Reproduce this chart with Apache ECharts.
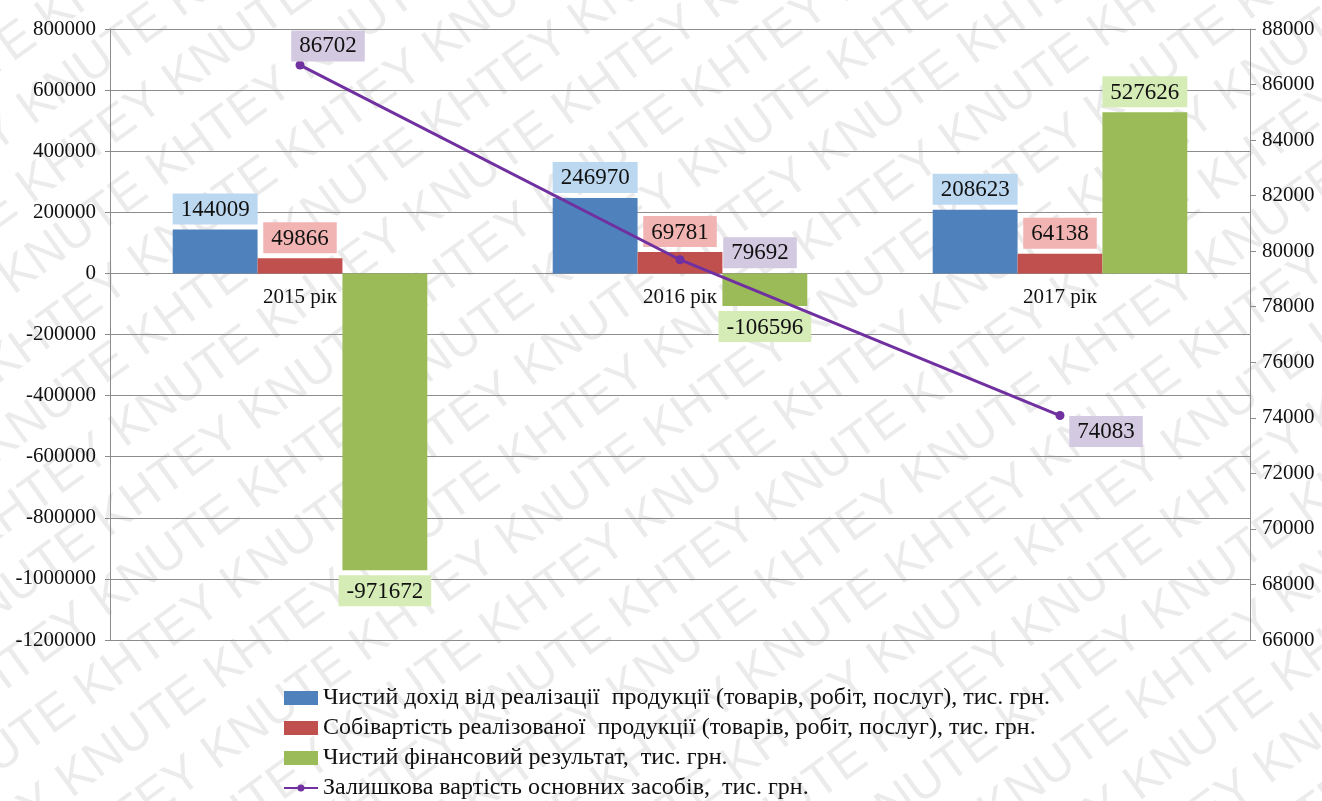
<!DOCTYPE html>
<html>
<head>
<meta charset="utf-8">
<script src="https://cdn.jsdelivr.net/npm/echarts@6/dist/echarts.min.js"></script>
<style>
  html, body { margin: 0; padding: 0; background: #ffffff; }
  #chart { width: 1322px; height: 801px; }
</style>
</head>
<body>
<div id="chart"></div>
<script>
// Categories and values
const years = ['2015 рік', '2016 рік', '2017 рік'];
const netIncome = [144009, 246970, 208623];
const costOfSales = [49866, 69781, 64138];
const netResult = [-971672, -106596, 527626];
const residualValue = [86702, 79692, 74083];

const seriesNames = [
  'Чистий дохід від реалізації  продукції (товарів, робіт, послуг), тис. грн.',
  'Собівартість реалізованої  продукції (товарів, робіт, послуг), тис. грн.',
  'Чистий фінансовий результат,  тис. грн.',
  'Залишкова вартість основних засобів,  тис. грн.'
];

// Axis ranges
const leftAxis = { min: -1200000, max: 800000, interval: 200000 };
const rightAxis = { min: 66000, max: 88000, interval: 2000 };

// Where each point label of the line sits, relative to its marker
const pointLabelOffsets = [[28, -19], [80, -7], [46, 16]];

const serif = "'Liberation Serif', 'Times New Roman', serif";
const gridColor = '#8c8c8c';
const plain = v => String(v);

const grid = { left: 110, right: 72, top: 29, bottom: 161 };
const plotHeight = 801 - grid.top - grid.bottom;
// Lift the category axis from the bottom edge up to the zero line of the left axis
const zeroLift = plotHeight * (0 - leftAxis.min) / (leftAxis.max - leftAxis.min);

function barLabel(bg) {
  return {
    show: true,
    position: 'outside',
    distance: 5,
    fontFamily: serif,
    fontSize: 23,
    color: '#111111',
    backgroundColor: bg,
    padding: [5, 8, 3, 8]
  };
}

// Diagonal "KHTEY KNUTE" watermark over the whole canvas
const watermark = [];
for (let i = -15; i <= 15; i++) {
  watermark.push({
    type: 'text',
    x: -1850 + ((i % 3 + 3) % 3) * 115,
    y: i * 63,
    style: {
      text: 'KHTEY KNUTE '.repeat(12),
      font: '50px "Liberation Sans", Arial, sans-serif',
      fill: 'rgba(0,0,0,0.08)'
    }
  });
}

const chart = echarts.init(document.getElementById('chart'), null, { renderer: 'canvas' });

chart.setOption({
  backgroundColor: '#ffffff',
  animation: false,
  grid: grid,
  legend: {
    orient: 'vertical',
    left: 284,
    top: 686,
    padding: 0,
    itemWidth: 34,
    itemHeight: 14,
    itemGap: 6,
    icon: 'rect',
    textStyle: { fontFamily: serif, fontSize: 24, lineHeight: 24, color: '#111111' },
    data: [
      { name: seriesNames[0] },
      { name: seriesNames[1] },
      { name: seriesNames[2] },
      { name: seriesNames[3], icon: 'path://M0,6 L34,6 L34,8 L0,8 Z M17,3.5 A3.5,3.5 0 1 1 16.99,3.5 Z' }
    ]
  },
  xAxis: {
    type: 'category',
    data: years,
    position: 'bottom',
    offset: -zeroLift,
    axisLine: { onZero: false, lineStyle: { color: gridColor, width: 1 } },
    axisTick: { show: false },
    axisLabel: { fontFamily: serif, fontSize: 21, color: '#111111', margin: 14 },
    splitLine: { show: false }
  },
  yAxis: [
    {
      type: 'value',
      min: leftAxis.min,
      max: leftAxis.max,
      interval: leftAxis.interval,
      axisLine: { show: true, lineStyle: { color: gridColor } },
      axisTick: { show: true, length: 5, lineStyle: { color: gridColor } },
      axisLabel: { fontFamily: serif, fontSize: 21, color: '#111111', margin: 14, formatter: plain },
      splitLine: { show: true, lineStyle: { color: gridColor, width: 1 } }
    },
    {
      type: 'value',
      position: 'right',
      min: rightAxis.min,
      max: rightAxis.max,
      interval: rightAxis.interval,
      axisLine: { show: true, lineStyle: { color: gridColor } },
      axisTick: { show: true, length: 6, lineStyle: { color: gridColor } },
      axisLabel: { fontFamily: serif, fontSize: 21, color: '#111111', margin: 12, formatter: plain },
      splitLine: { show: false }
    }
  ],
  series: [
    {
      name: seriesNames[0],
      type: 'bar',
      data: netIncome,
      barGap: '0%',
      barCategoryGap: '33%',
      itemStyle: { color: '#4f81bd' },
      label: barLabel('#bcd8f0')
    },
    {
      name: seriesNames[1],
      type: 'bar',
      data: costOfSales,
      barGap: '0%',
      barCategoryGap: '33%',
      itemStyle: { color: '#c0504d' },
      label: barLabel('#f1b4b3')
    },
    {
      name: seriesNames[2],
      type: 'bar',
      data: netResult,
      barGap: '0%',
      barCategoryGap: '33%',
      itemStyle: { color: '#9bbb59' },
      label: barLabel('#d5ecb7')
    },
    {
      name: seriesNames[3],
      type: 'line',
      yAxisIndex: 1,
      z: 5,
      symbol: 'circle',
      symbolSize: 9,
      itemStyle: { color: '#7030a0' },
      lineStyle: { color: '#7030a0', width: 3 },
      data: residualValue.map((v, i) => ({
        value: v,
        label: { offset: pointLabelOffsets[i] }
      })),
      label: {
        show: true,
        position: 'inside',
        fontFamily: serif,
        fontSize: 23,
        color: '#111111',
        backgroundColor: '#d3c9e0',
        padding: [5, 8, 3, 8]
      }
    }
  ],
  graphic: [
    {
      type: 'group',
      x: 661,
      y: 400,
      rotation: 36 * Math.PI / 180,
      silent: true,
      z: 100,
      children: watermark
    }
  ]
});
</script>
</body>
</html>
